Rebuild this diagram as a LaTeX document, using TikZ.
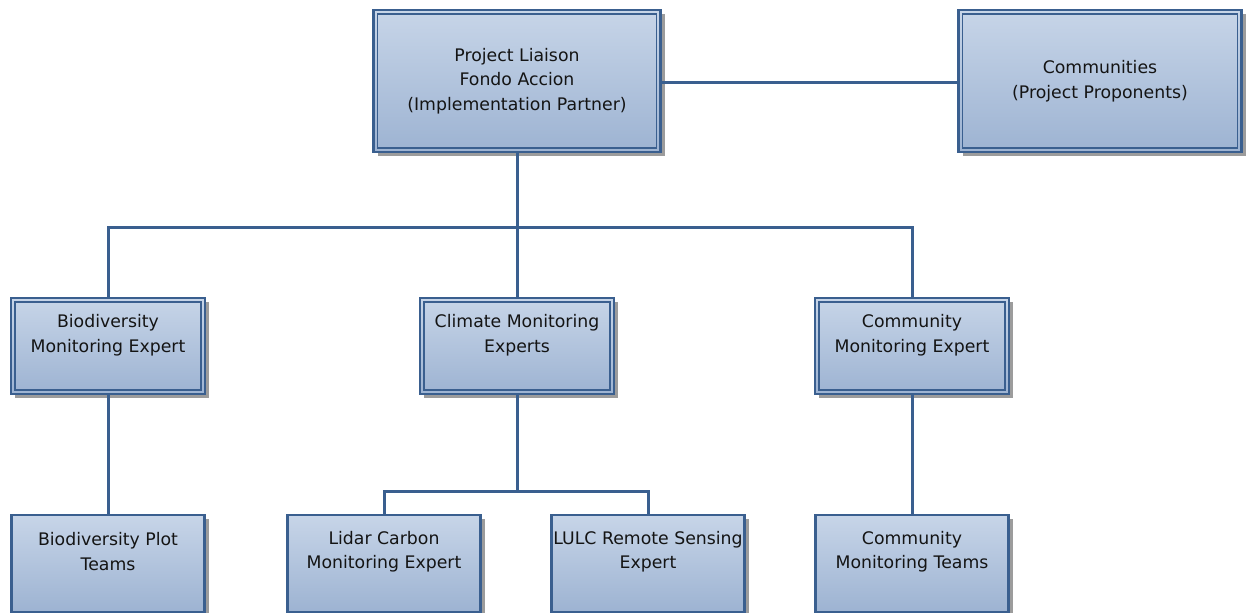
\documentclass[tikz,border=0pt]{standalone}
\usepackage{fontspec}
\setmainfont{DejaVu Sans}
\usetikzlibrary{shadows,calc}
\definecolor{edge}{HTML}{3A5F8F}
\definecolor{ftop}{HTML}{C7D5E8}
\definecolor{fbot}{HTML}{9DB3D2}
\definecolor{shadecol}{HTML}{9C9C9C}
\tikzset{
  box/.style={rectangle, draw=edge, line width=2.4pt, top color=ftop, bottom color=fbot,
    general shadow={fill=shadecol, shadow xshift=4pt, shadow yshift=-4pt}, inner sep=0pt},
  topbox/.style={box, minimum width=287pt, minimum height=142pt},
  midbox/.style={box, minimum width=194pt, minimum height=96pt},
  lowbox/.style={box, minimum width=193pt, minimum height=97pt},
  innerline/.style={draw=edge, line width=1.5pt},
  txt/.style={align=center, font=\fontsize{17.3}{24.5}\selectfont, text=black!92, inner sep=0pt},
  conn/.style={draw=edge, line width=3pt},
}
\begin{document}
\begin{tikzpicture}[x=1pt,y=-1pt]
\useasboundingbox[fill=white] (0,0) rectangle (1248,613);
% top row
\node[topbox] (pl) at (517,81) {};
\node[topbox, minimum width=283pt] (com) at (1100,81) {};
% middle row
\node[midbox] (bme) at (108,346) {};
\node[midbox] (cme) at (517,346) {};
\node[midbox] (cmx) at (912,346) {};
% bottom row
\node[lowbox] (bpt) at (108,563.5) {};
\node[lowbox] (lid) at (384,563.5) {};
\node[lowbox] (lulc) at (648,563.5) {};
\node[lowbox] (cmt) at (912,563.5) {};
% inner lines of double borders
\foreach \n in {pl,com,bme,cme,cmx}
  \draw[innerline] ($(\n.north west)+(5,5)$) rectangle ($(\n.south east)+(-5,-5)$);
% texts
\node[txt] (pl-t) at (pl) {Project Liaison\\Fondo Accion\\(Implementation Partner)};
\node[txt] (com-t) at (com) {Communities\\(Project Proponents)};
\node[txt] (bme-t) at ($(bme)+(0,-11)$) {Biodiversity\\Monitoring Expert};
\node[txt] (cme-t) at ($(cme)+(0,-11)$) {Climate Monitoring\\Experts};
\node[txt] (cmx-t) at ($(cmx)+(0,-11)$) {Community\\Monitoring Expert};
\node[txt] (bpt-t) at ($(bpt)+(0,-12)$) {Biodiversity Plot\\Teams};
\node[txt] (lid-t) at ($(lid)+(0,-12)$) {Lidar Carbon\\Monitoring Expert};
\node[txt] (lulc-t) at ($(lulc)+(0,-12)$) {LULC Remote Sensing\\Expert};
\node[txt] (cmt-t) at ($(cmt)+(0,-12)$) {Community\\Monitoring Teams};
% connectors
\coordinate (j1) at (517,227);
\coordinate (j2) at (517,491);
\draw[conn] ([yshift=-1.5pt]pl.east) -- ([yshift=-1.5pt]pl.east -| com.west);
\draw[conn] (pl.south) -- (j1);
\draw[conn] (bme.north) -- (bme.north |- j1) -- (cmx.north |- j1) -- (cmx.north);
\draw[conn] (j1) -- (cme.north);
\draw[conn] (bme.south) -- (bpt.north);
\draw[conn] (cmx.south) -- (cmt.north);
\draw[conn] (cme.south) -- (j2);
\draw[conn] (lid.north) -- (lid.north |- j2) -- (lulc.north |- j2) -- (lulc.north);
\end{tikzpicture}
\end{document}
